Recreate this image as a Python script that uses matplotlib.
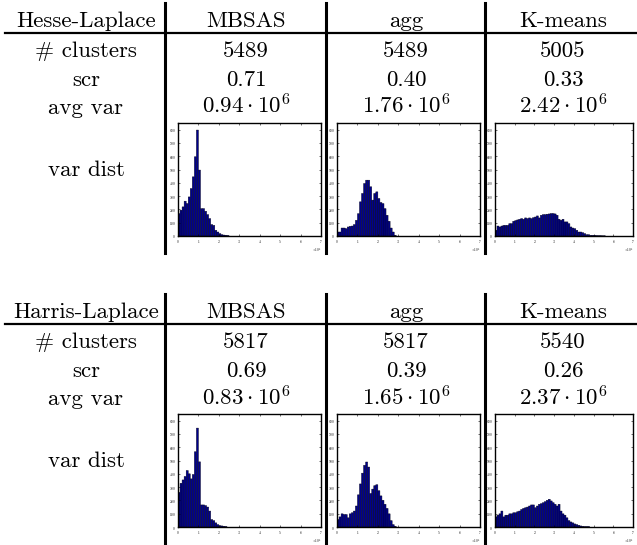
import numpy as np
import matplotlib
matplotlib.use('Agg')
import matplotlib.pyplot as plt
from matplotlib.lines import Line2D

plt.rcParams['font.family'] = 'cmr10'
plt.rcParams['mathtext.fontset'] = 'cm'
plt.rcParams['axes.formatter.use_mathtext'] = True

# table contents
methods = ['MBSAS', 'agg', 'K-means']
row_names = ['# clusters', 'scr', 'avg var', 'var dist']

hesse_clusters = ['5489', '5489', '5005']
hesse_scr = ['0.71', '0.40', '0.33']
hesse_avgvar = [r'$0.94 \cdot 10^6$', r'$1.76 \cdot 10^6$', r'$2.42 \cdot 10^6$']

harris_clusters = ['5817', '5817', '5540']
harris_scr = ['0.69', '0.39', '0.26']
harris_avgvar = [r'$0.83 \cdot 10^6$', r'$1.65 \cdot 10^6$', r'$2.37 \cdot 10^6$']

# histogram counts, bins of width 0.1 (x 10^6) starting at 0
bin_width = 0.1
hesse_mbsas = [168, 194, 219, 262, 244, 294, 357, 445, 596, 797, 496, 206, 206, 186,
               161, 131, 86, 80, 43, 30, 18, 10, 7, 5, 3]
hesse_agg = [30, 30, 60, 60, 55, 68, 73, 75, 86, 118, 168, 257, 320, 395, 420, 420, 370,
             270, 320, 332, 282, 252, 244, 206, 156, 111, 60, 30, 5]
hesse_kmeans = [43, 75, 68, 75, 80, 80, 80, 93, 93, 111, 116, 121, 126, 131, 126, 136, 131,
                136, 131, 138, 143, 151, 136, 156, 161, 161, 164, 166, 169, 169, 166, 156,
                126, 118, 126, 106, 106, 93, 68, 60, 55, 43, 30, 30, 25, 18, 10, 10, 5, 5,
                5, 3, 2, 2, 1, 1]
harris_mbsas = [260, 329, 354, 380, 425, 400, 362, 395, 566, 744, 490, 166, 166, 161, 150,
                120, 56, 48, 31, 18, 10, 8, 5, 3]
harris_agg = [56, 76, 99, 94, 94, 69, 99, 107, 120, 158, 242, 324, 405, 464, 489, 451, 252,
              285, 311, 318, 273, 234, 201, 171, 140, 99, 48, 18, 5]
harris_kmeans = [76, 89, 99, 120, 76, 89, 89, 99, 99, 107, 107, 115, 120, 132, 140, 145, 150,
                 158, 166, 166, 145, 158, 171, 176, 183, 191, 201, 209, 196, 183, 171, 158,
                 171, 120, 99, 89, 69, 48, 38, 31, 23, 18, 13, 8, 5, 3, 3, 3]

tables = [
    ('Hesse-Laplace', hesse_clusters, hesse_scr, hesse_avgvar,
     [hesse_mbsas, hesse_agg, hesse_kmeans]),
    ('Harris-Laplace', harris_clusters, harris_scr, harris_avgvar,
     [harris_mbsas, harris_agg, harris_kmeans]),
]

W, H = 637, 545
fig = plt.figure(figsize=(W / 100, H / 100), dpi=100)


def fx(x):
    return x / W


def fy(y):
    return 1 - y / H


col_centers = [86, 246, 406, 563]
col_lines = [165, 326, 485]
hist_left = [178, 337, 495]
hist_w = [143, 143, 138]
fs = 16.5

for t, (title, clusters, scr, avgvar, hists) in enumerate(tables):
    off = 291 * t
    # rules
    for xl in col_lines:
        fig.add_artist(Line2D([fx(xl), fx(xl)], [fy(3 + off), fy(253 + off)],
                              color='black', lw=2.2))
    fig.add_artist(Line2D([fx(5), fx(637)], [fy(33 + off), fy(33 + off)],
                          color='black', lw=1.6))
    # header
    fig.text(fx(col_centers[0]), fy(27 + off), title, ha='center', va='baseline', fontsize=fs)
    for j, m in enumerate(methods):
        fig.text(fx(col_centers[j + 1]), fy(27 + off), m, ha='center', va='baseline', fontsize=fs)
    # rows
    baselines = [57, 86, 114]
    for r, name in enumerate(row_names[:3]):
        fig.text(fx(col_centers[0]), fy(baselines[r] + off), name,
                 ha='center', va='baseline', fontsize=fs)
    for j in range(3):
        fig.text(fx(col_centers[j + 1]), fy(57 + off), clusters[j],
                 ha='center', va='baseline', fontsize=fs)
        fig.text(fx(col_centers[j + 1]), fy(86 + off), scr[j],
                 ha='center', va='baseline', fontsize=fs)
        fig.text(fx(col_centers[j + 1]), fy(114 + off), avgvar[j],
                 ha='center', va='baseline', fontsize=fs)
    fig.text(fx(col_centers[0]), fy(170 + off), row_names[3],
             ha='center', va='center', fontsize=fs)

    # histograms
    for j, counts in enumerate(hists):
        ax = fig.add_axes([fx(hist_left[j]), fy(236 + off), hist_w[j] / W, 113 / H])
        edges = np.arange(len(counts)) * bin_width
        ax.bar(edges, counts, width=bin_width, align='edge', snap=False,
               facecolor='#00008c', edgecolor='#000010', linewidth=0.3)
        ax.set_xlim(0, 7)
        ax.set_ylim(0, 850)
        ax.set_xticks(range(8))
        ax.set_yticks(range(0, 900, 100))
        ax.tick_params(direction='in', top=True, right=True, length=1.5, width=0.4,
                       labelsize=2.5, pad=1.5)
        for s in ax.spines.values():
            s.set_linewidth(1.0)
        ax.text(1.0, -0.09, r'$\times 10^6$', transform=ax.transAxes,
                fontsize=2.5, ha='right', va='top')

fig.savefig('out.png', dpi=100)
